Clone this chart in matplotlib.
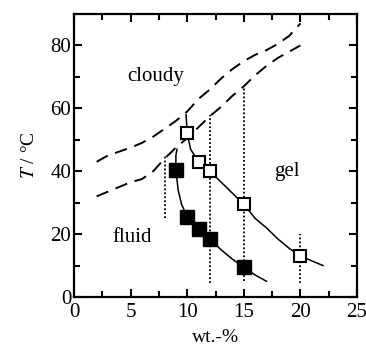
import matplotlib.pyplot as plt

plt.rcParams['font.family'] = ['Liberation Serif', 'DejaVu Serif']
plt.rcParams['mathtext.fontset'] = 'stix'

# data
fluid_x = [9, 10, 11, 12, 15]
fluid_t = [40.5, 25.5, 21.5, 18.5, 9.5]
gel_x = [10, 11, 12, 15, 20]
gel_t = [52, 43, 40, 29.5, 13]

# guide curves through the points
fluid_curve_x = [9.1, 9.0, 9.0, 9.2, 9.5, 10, 11, 12, 13, 14, 15, 16, 17]
fluid_curve_t = [47, 45, 40.5, 34, 29.5, 25.5, 21.5, 18.5, 15, 12, 9.5, 7, 5]
gel_curve_x = [9.9, 10, 10.3, 11, 12, 13, 14, 15, 16, 17, 18, 19, 20, 21, 22]
gel_curve_t = [58, 52, 47, 43, 40, 36.5, 33, 29.5, 25, 22, 18.5, 15.5, 13, 11.5, 10]

# cloud point boundaries (dashed)
upper_x = [2, 3, 5, 6, 7, 8, 9, 10, 11, 12, 13, 14, 15, 16, 17, 18, 19, 20]
upper_t = [43, 45, 47.5, 49, 51, 53.5, 56, 59, 63, 66, 69.5, 72.5, 75, 77, 78.5, 80.5, 83, 87]
lower_x = [2, 3, 5, 6, 7, 8, 9, 10, 11, 12, 13, 14, 15, 16, 17, 18, 19, 20]
lower_t = [32, 33.5, 36.5, 37.5, 40, 44, 47.5, 50.5, 54, 57.5, 60.5, 64, 67, 70.5, 73.5, 76, 78, 80]

# vertical dotted guides: x, bottom, top
guide_x = [8, 12, 15, 20]
guide_lo = [25, 4.5, 5, 4.5]
guide_hi = [45, 58, 66.5, 20]

fig = plt.figure(figsize=(3.66, 3.44), dpi=100)
ax = fig.add_axes([74 / 366, 47 / 344, 283 / 366, 283 / 344])

for gx, lo, hi in zip(guide_x, guide_lo, guide_hi):
    ax.plot([gx, gx], [lo, hi], color='black', lw=1.3, ls=(0, (1, 1.2)), zorder=1)

ax.plot(upper_x, upper_t, color='black', lw=1.4, ls=(0, (6.5, 4)), zorder=2)
ax.plot(lower_x, lower_t, color='black', lw=1.4, ls=(0, (6.5, 4)), zorder=2)

ax.plot(fluid_curve_x, fluid_curve_t, color='black', lw=1.1, zorder=2)
ax.plot(gel_curve_x, gel_curve_t, color='black', lw=1.1, zorder=2)

ax.plot(fluid_x, fluid_t, 's', color='black', ms=9.5, zorder=3)
ax.plot(gel_x, gel_t, 's', mfc='white', mec='black', mew=1.5, ms=8.5, zorder=3)

ax.text(7.2, 70, 'cloudy', fontsize=15, ha='center', va='center')
ax.text(18.8, 40, 'gel', fontsize=15, ha='center', va='center')
ax.text(5.1, 19, 'fluid', fontsize=15, ha='center', va='center')

ax.set_xlim(0, 25)
ax.set_ylim(0, 90)
ax.set_xticks([0, 5, 10, 15, 20, 25])
ax.set_xticks([2.5, 7.5, 12.5, 17.5, 22.5], minor=True)
ax.set_yticks([0, 20, 40, 60, 80])
ax.set_yticks([10, 30, 50, 70], minor=True)
ax.tick_params(which='both', direction='in', top=True, right=True, width=1.5,
               labelsize=15)
ax.tick_params(axis='x', pad=4)
ax.tick_params(axis='y', pad=2)
ax.tick_params(which='major', length=6)
ax.tick_params(which='minor', length=4)
for s in ax.spines.values():
    s.set_linewidth(1.6)

ax.set_xlabel('wt.-%', fontsize=14, labelpad=5)
ax.set_ylabel(r'$T$ / °C', fontsize=14, labelpad=9)

fig.savefig('out.png', dpi=100)
